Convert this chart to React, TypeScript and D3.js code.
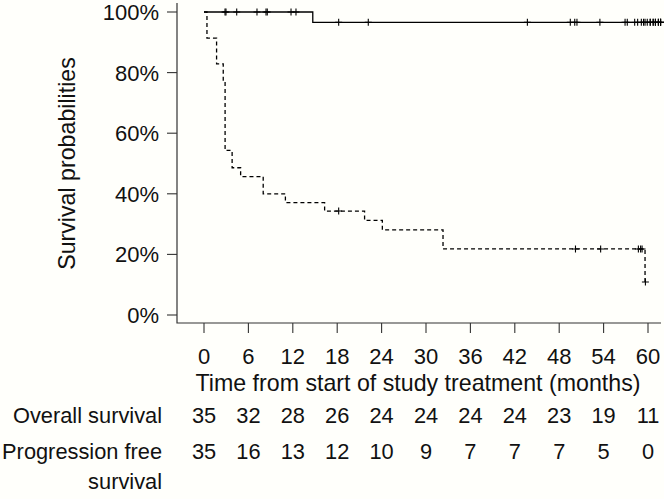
import React from "react";
import * as d3 from "d3";

// ---- data ----
const timeTicks = [0, 6, 12, 18, 24, 30, 36, 42, 48, 54, 60];
const survTicks = [0, 0.2, 0.4, 0.6, 0.8, 1.0];

const osRisk = [35, 32, 28, 26, 24, 24, 24, 24, 23, 19, 11];
const pfsRisk = [35, 16, 13, 12, 10, 9, 7, 7, 7, 5, 0];

// Overall survival (solid) step curve
const osStepTimes = [0, 14.7];
const osStepSurv = [1.0, 0.966];
const osEndTime = 61.8;
const osCensorTimes = [
  2.84, 2.97, 4.42, 7.16, 8.38, 8.55, 11.76, 12.43, 18.2, 22.2, 43.7, 49.5, 50.1,
  50.4, 53.5, 56.9, 57.2, 58.2, 58.6, 59.1, 59.4, 59.6, 59.9, 60.3, 60.3, 60.7, 60.7,
  61.0, 61.0, 61.4, 61.4, 61.7, 61.7, 61.7,
];

// Progression free survival (dashed) step curve
const pfsStepTimes = [0, 0.4, 1.7, 2.6, 2.85, 3.8, 4.95, 8.0, 11.0, 16.3, 21.7, 24.1, 32.3, 59.6];
const pfsStepSurv = [1.0, 0.914, 0.829, 0.771, 0.543, 0.486, 0.457, 0.4, 0.371, 0.343, 0.312, 0.281, 0.218, 0.109];
const pfsEndTime = 59.65;
const pfsCensorTimes = [18.2, 50.2, 53.6, 58.7, 59.0, 59.2, 59.65];

const FONT = "'Liberation Sans', Arial, Helvetica, sans-serif";
const FS_TICK = 22;
const FS_TITLE = 23.2;
const FS_RISK = 21.8;

function survAt(times: number[], surv: number[], t: number) {
  let s = surv[0];
  for (let i = 0; i < times.length; i++) if (times[i] <= t) s = surv[i];
  return s;
}

function stepPoints(times: number[], surv: number[], end: number): [number, number][] {
  const pts: [number, number][] = times.map((t, i) => [t, surv[i]]);
  pts.push([end, surv[surv.length - 1]]);
  return pts;
}

export default function App() {
  const W = 664, H = 499;
  const boxLeft = 177, boxTop = 3, boxBottom = 323, boxRight = 661;
  const x = d3.scaleLinear().domain([0, 60]).range([204, 648]);
  const y = d3.scaleLinear().domain([0, 1]).range([315, 12]);

  const line = d3
    .line<[number, number]>()
    .x((d) => x(d[0]))
    .y((d) => y(d[1]))
    .curve(d3.curveStepAfter);

  const osPath = line(stepPoints(osStepTimes, osStepSurv, osEndTime)) || "";
  const pfsPath = line(stepPoints(pfsStepTimes, pfsStepSurv, pfsEndTime)) || "";

  const mark = (t: number, s: number, k: string) => {
    const cx = x(t), cy = y(s), r = 3.5;
    return (
      <path key={k} d={`M${cx - r},${cy}H${cx + r}M${cx},${cy - r}V${cy + r}`} stroke="#000" strokeWidth={1.1} fill="none" />
    );
  };

  return (
    <svg width={W} height={H} style={{ position: "absolute", left: 0, top: 0, background: "#fffffb" }} fontFamily={FONT}>
      {/* box (L shape) */}
      <path d={`M${boxLeft},${boxTop}V${boxBottom}H${boxRight}`} stroke="#333" strokeWidth={1.2} fill="none" />
      {/* y ticks */}
      {survTicks.map((v) => (
        <g key={"y" + v}>
          <line x1={boxLeft - 10} x2={boxLeft} y1={y(v)} y2={y(v)} stroke="#333" strokeWidth={1.1} />
          <text x={boxLeft - 18} y={y(v)} dy="0.36em" textAnchor="end" fontSize={FS_TICK} fill="#111">
            {d3.format(".0%")(v)}
          </text>
        </g>
      ))}
      {/* x ticks */}
      {timeTicks.map((t) => (
        <g key={"x" + t}>
          <line x1={x(t)} x2={x(t)} y1={boxBottom} y2={boxBottom + 10} stroke="#333" strokeWidth={1.1} />
          <text x={x(t)} y={364} textAnchor="middle" fontSize={FS_TICK} fill="#111">
            {t}
          </text>
        </g>
      ))}
      <text x={418} y={391} textAnchor="middle" fontSize={FS_TITLE} fill="#111">
        Time from start of study treatment (months)
      </text>
      <text
        transform={`translate(75,${(y(0) + y(1)) / 2}) rotate(-90)`}
        textAnchor="middle"
        fontSize={FS_TITLE}
        fill="#111"
      >
        Survival probabilities
      </text>

      {/* curves */}
      <path d={osPath} stroke="#000" strokeWidth={1.3} fill="none" />
      <path d={pfsPath} stroke="#000" strokeWidth={1.3} fill="none" strokeDasharray="4,3" />
      {osCensorTimes.map((t, i) => mark(t, survAt(osStepTimes, osStepSurv, t), "oc" + i))}
      {pfsCensorTimes.map((t, i) => mark(t, survAt(pfsStepTimes, pfsStepSurv, t), "pc" + i))}

      {/* number at risk */}
      <text x={162} y={423} textAnchor="end" fontSize={FS_RISK} fill="#111">Overall survival</text>
      <text x={162} y={459} textAnchor="end" fontSize={FS_RISK} fill="#111">Progression free</text>
      <text x={162} y={489} textAnchor="end" fontSize={FS_RISK} fill="#111">survival</text>
      {osRisk.map((n, i) => (
        <text key={"or" + i} x={x(timeTicks[i])} y={423} textAnchor="middle" fontSize={FS_RISK} fill="#111">{n}</text>
      ))}
      {pfsRisk.map((n, i) => (
        <text key={"pr" + i} x={x(timeTicks[i])} y={459} textAnchor="middle" fontSize={FS_RISK} fill="#111">{n}</text>
      ))}
    </svg>
  );
}
